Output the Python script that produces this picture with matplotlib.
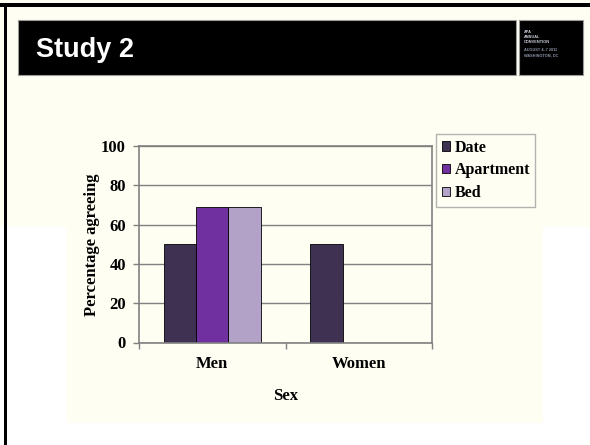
import matplotlib
matplotlib.use("Agg")
import matplotlib.pyplot as plt
from matplotlib.patches import Rectangle
import numpy as np

# Data
categories = ["Men", "Women"]
series_names = ["Date", "Apartment", "Bed"]
date_vals = [50, 50]
apartment_vals = [69, 0]
bed_vals = [69, 0]
bar_colors = ["#3F3151", "#7030A0", "#B2A2C7"]
y_ticks = [0, 20, 40, 60, 80, 100]

W, H = 590, 445
cream = "#FFFEF2"
grey = "#808080"
serif = "Liberation Serif"


def rect(x0, y0, x1, y1, **kw):
    # rectangle given in pixel coords (origin top-left)
    return Rectangle((x0 / W, 1 - y1 / H), (x1 - x0) / W, (y1 - y0) / H,
                     transform=fig.transFigure, **kw)


fig = plt.figure(figsize=(W / 100, H / 100), dpi=100, facecolor="white")

# slide background pieces
fig.patches.append(rect(0, 0, W, 227, facecolor=cream, edgecolor="none", zorder=-2))
fig.patches.append(rect(67, 100, 543, 423, facecolor=cream, edgecolor="none", zorder=-2))
# slide border (top and left)
fig.patches.append(rect(0, 3, W, 6.5, facecolor="black", edgecolor="none", zorder=-1))
fig.patches.append(rect(3.5, 3, 7, H, facecolor="black", edgecolor="none", zorder=-1))

# title bar and logo box
fig.patches.append(rect(18, 20, 516, 75, facecolor="black", edgecolor="#9A9A9A", linewidth=0.8, zorder=-1))
fig.patches.append(rect(519, 20, 583, 75, facecolor="black", edgecolor="#9A9A9A", linewidth=0.8, zorder=-1))
fig.text(36 / W, 1 - 50 / H, "Study 2", color="white", fontsize=19.5, fontweight="bold",
         family="Liberation Sans", va="center", ha="left")
logo_lines = [("APA", 32, "#C8CCD8"), ("ANNUAL", 37, "#C8CCD8"), ("CONVENTION", 42, "#C8CCD8"),
              ("AUGUST 4\u20137 2011", 50, "#8C94A8"), ("WASHINGTON, DC", 55, "#8C94A8")]
for txt, yy, col in logo_lines:
    fig.text(524 / W, 1 - yy / H, txt, color=col, fontsize=2.8, fontweight="bold",
             family="Liberation Sans", va="center", ha="left")

# chart axes
ax = fig.add_axes([139 / W, 1 - 342.5 / H, 293 / W, 196.5 / H])
ax.set_zorder(2)
ax.patch.set_alpha(0)

x = np.arange(len(categories))
bw = 0.221
for i, (vals, name) in enumerate(zip([date_vals, apartment_vals, bed_vals], series_names)):
    ax.bar(x + (i - 1) * bw, vals, width=bw, color=bar_colors[i], edgecolor="black",
           linewidth=0.6, label=name, zorder=3)

ax.set_xlim(-0.5, 1.5)
ax.set_ylim(0, 100)
ax.set_yticks(y_ticks)
ax.yaxis.grid(True, color=grey, linewidth=1, zorder=0)
ax.set_axisbelow(True)
for s in ax.spines.values():
    s.set_color(grey)
    s.set_linewidth(1.2)
    s.set_zorder(4)

ax.set_xticks([-0.5, 0.5, 1.5])
ax.set_xticklabels([])
ax.set_xticks(x, minor=True)
ax.set_xticklabels(categories, minor=True, fontsize=12, fontweight="bold", family=serif)
ax.tick_params(axis="x", which="major", length=4, color=grey, width=1)
ax.tick_params(axis="x", which="minor", length=0, pad=10)
ax.tick_params(axis="y", length=4.5, color=grey, width=1, pad=5)
for lab in ax.get_yticklabels():
    lab.set_fontsize(12)
    lab.set_fontweight("bold")
    lab.set_family(serif)

ax.set_ylabel("Percentage agreeing", fontsize=12, fontweight="bold", family=serif, labelpad=1)
ax.set_xlabel("Sex", fontsize=12, fontweight="bold", family=serif, labelpad=11)

leg = ax.legend(loc="upper left", bbox_to_anchor=(436 / W, 1 - 134 / H),
                bbox_transform=fig.transFigure, frameon=True, fancybox=False,
                handlelength=0.55, handleheight=0.55, handletextpad=0.25,
                labelspacing=0.42, borderpad=0.35, borderaxespad=0,
                prop={"family": serif, "weight": "bold", "size": 11.5})
leg.get_frame().set_edgecolor("#A0A0A0")
leg.get_frame().set_linewidth(1)
leg.get_frame().set_facecolor(cream)

fig.savefig("out.png", dpi=100, facecolor="white")
